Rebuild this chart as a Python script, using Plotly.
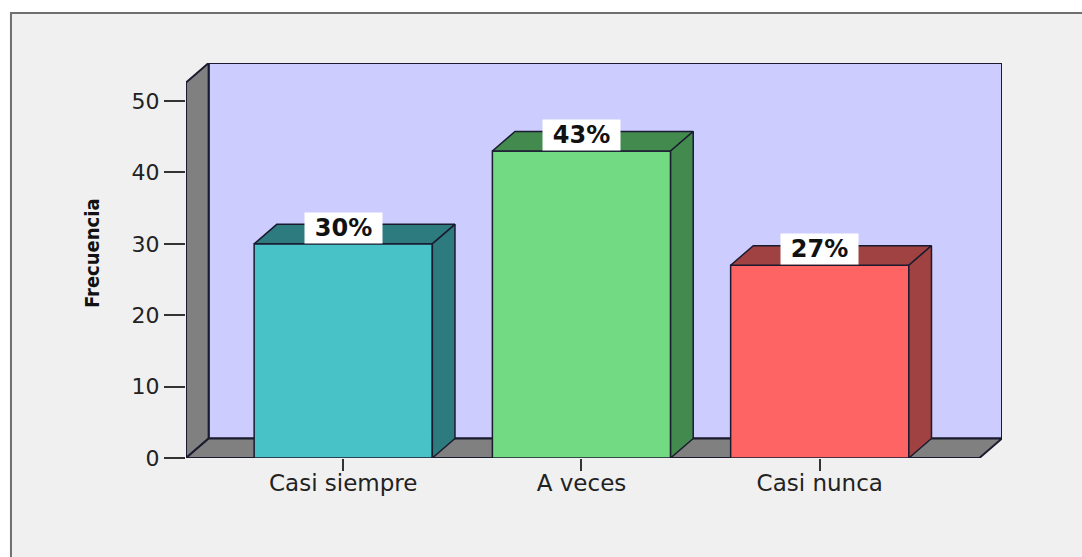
import plotly.graph_objects as go

# Frequencies per response category
categories = ["Casi siempre", "A veces", "Casi nunca"]
frequencies = [30, 43, 27]
y_tick_values = [0, 10, 20, 30, 40, 50]

# Face colours: front / top & side
front_colors = ["#48c1c7", "#72da82", "#ff6464"]
shade_colors = ["#2d7b7f", "#438a4f", "#a14242"]

total = sum(frequencies)
pct_labels = [f"{round(100 * v / total)}%" for v in frequencies]

# pseudo-3D geometry (in axis units)
bar_w = 0.748
dx, dy = 0.095, 2.73
x_lo, x_hi = -0.66, 2.67
y_top = 52.6
edge = "#1b1b30"

xs = list(range(len(categories)))

fig = go.Figure()

# front faces
fig.add_trace(go.Bar(
    x=xs, y=frequencies, width=bar_w, base=0,
    marker=dict(color=front_colors, line=dict(color=edge, width=1.5)),
    hoverinfo="skip", showlegend=False,
))

# top and right-side faces of each bar
for x, v, c in zip(xs, frequencies, shade_colors):
    l, r = x - bar_w / 2, x + bar_w / 2
    fig.add_trace(go.Scatter(
        x=[l, r, r + dx, l + dx, l], y=[v, v, v + dy, v + dy, v],
        mode="lines", fill="toself", fillcolor=c,
        line=dict(color=edge, width=1.5), hoverinfo="skip", showlegend=False,
    ))
    fig.add_trace(go.Scatter(
        x=[r, r, r + dx, r + dx, r], y=[0, v, v + dy, dy, 0],
        mode="lines", fill="toself", fillcolor=c,
        line=dict(color=edge, width=1.5), hoverinfo="skip", showlegend=False,
    ))

def path(pts):
    return "M " + " L ".join(f"{px},{py}" for px, py in pts) + " Z"

shapes = [
    # chart frame
    dict(type="rect", xref="paper", yref="paper", x0=-0.2145, x1=1.2, y0=-0.4, y1=1.1266,
         fillcolor="#f0f0f0", line=dict(color="#6f6f6f", width=2), layer="below"),
    # back wall
    dict(type="path", xref="x", yref="y", layer="below",
         path=path([(x_lo + dx, dy), (x_hi + dx, dy), (x_hi + dx, y_top + dy), (x_lo + dx, y_top + dy)]),
         fillcolor="#ccccff", line=dict(color=edge, width=2)),
    # left side wall
    dict(type="path", xref="x", yref="y", layer="below",
         path=path([(x_lo, 0), (x_lo, y_top), (x_lo + dx, y_top + dy), (x_lo + dx, dy)]),
         fillcolor="#808080", line=dict(color=edge, width=2)),
    # floor
    dict(type="path", xref="x", yref="y", layer="below",
         path=path([(x_lo, 0), (x_hi, 0), (x_hi + dx, dy), (x_lo + dx, dy)]),
         fillcolor="#808080", line=dict(color=edge, width=2)),
]

annotations = [
    dict(x=x, y=v, xref="x", yref="y", text=t, showarrow=False,
         xanchor="center", yanchor="bottom", width=77, height=30,
         bgcolor="white", borderpad=0,
         font=dict(family="DejaVu Sans", size=24, color="#111111", weight="bold"))
    for x, v, t in zip(xs, frequencies, pct_labels)
]
annotations.append(dict(
    x=-0.1152, y=0.519, xref="paper", yref="paper", text="Frecuencia",
    showarrow=False, textangle=-90, xanchor="center", yanchor="middle",
    font=dict(family="DejaVu Sans Condensed, Liberation Sans",
              size=20, color="#111111", weight="bold"),
))

fig.update_layout(
    width=1082, height=557, autosize=False,
    margin=dict(l=186, r=80, t=63, b=99, pad=0),
    paper_bgcolor="white", plot_bgcolor="rgba(0,0,0,0)",
    shapes=shapes, annotations=annotations, showlegend=False,
    xaxis=dict(range=[x_lo, x_hi + dx], tickvals=xs, ticktext=categories,
               showgrid=False, zeroline=False, showline=False,
               ticks="outside", ticklen=12, tickwidth=2, tickcolor="#333333",
               ticklabelstandoff=-8,
               tickfont=dict(family="DejaVu Sans", size=23, color="#222222")),
    yaxis=dict(range=[0, y_top + dy], tickvals=y_tick_values,
               showgrid=False, zeroline=False, showline=False,
               ticks="outside", ticklen=21, tickwidth=2, tickcolor="#333333",
               tickfont=dict(family="DejaVu Sans", size=22, color="#222222")),
)

fig.write_html("out.html")
